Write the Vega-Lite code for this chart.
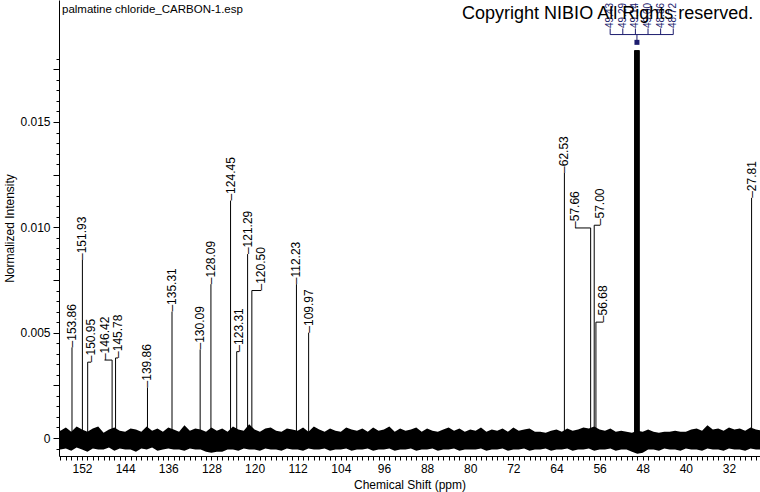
{
  "$schema": "https://vega.github.io/schema/vega-lite/v6.json",
  "width": 701,
  "height": 456,
  "autosize": {"type": "none"},
  "padding": {"left": 59, "top": 0, "right": 0, "bottom": 36},
  "background": "white",
  "config": {"view": {"stroke": null}, "font": "Liberation Sans"},
  "resolve": {"axis": {"x": "independent", "y": "independent"}},
  "datasets": {
    "peaks": [
      {"ppm": 153.86, "intensity": 0.0043, "labelPpm": 153.86},
      {"ppm": 151.93, "intensity": 0.00845, "labelPpm": 151.93},
      {"ppm": 150.95, "intensity": 0.0036, "labelPpm": 150.33},
      {"ppm": 146.42, "intensity": 0.0037, "labelPpm": 147.83},
      {"ppm": 145.78, "intensity": 0.0038, "labelPpm": 145.32},
      {"ppm": 139.86, "intensity": 0.0024, "labelPpm": 139.86},
      {"ppm": 135.31, "intensity": 0.0060, "labelPpm": 135.31},
      {"ppm": 130.09, "intensity": 0.0042, "labelPpm": 130.09},
      {"ppm": 128.09, "intensity": 0.0073, "labelPpm": 128.09},
      {"ppm": 124.45, "intensity": 0.01127, "labelPpm": 124.45},
      {"ppm": 123.31, "intensity": 0.0041, "labelPpm": 122.87},
      {"ppm": 121.29, "intensity": 0.00873, "labelPpm": 121.29},
      {"ppm": 120.50, "intensity": 0.0070, "labelPpm": 118.79},
      {"ppm": 112.23, "intensity": 0.0073, "labelPpm": 112.23},
      {"ppm": 109.97, "intensity": 0.0050, "labelPpm": 109.97},
      {"ppm": 62.53, "intensity": 0.01258, "labelPpm": 62.53},
      {"ppm": 57.66, "intensity": 0.00997, "labelPpm": 60.53},
      {"ppm": 57.00, "intensity": 0.0101, "labelPpm": 55.90},
      {"ppm": 56.68, "intensity": 0.0055, "labelPpm": 55.34},
      {"ppm": 27.81, "intensity": 0.0114, "labelPpm": 27.81}
    ],
    "solvent": [
      {"ppm": 49.43, "intensity": 0.0184, "labelPpm": 54.04},
      {"ppm": 49.29, "intensity": 0.0184, "labelPpm": 51.70},
      {"ppm": 49.14, "intensity": 0.0184, "labelPpm": 49.36},
      {"ppm": 49.00, "intensity": 0.0184, "labelPpm": 47.02},
      {"ppm": 48.86, "intensity": 0.0184, "labelPpm": 44.68},
      {"ppm": 48.72, "intensity": 0.0184, "labelPpm": 42.34}
    ],
    "noise": [
      {"ppm": 157, "hi": 0.00040, "lo": -0.00055},
      {"ppm": 156, "hi": 0.00035, "lo": -0.00055},
      {"ppm": 155, "hi": 0.00050, "lo": -0.00050},
      {"ppm": 154, "hi": 0.00030, "lo": -0.00060},
      {"ppm": 153, "hi": 0.00055, "lo": -0.00045},
      {"ppm": 152, "hi": 0.00040, "lo": -0.00055},
      {"ppm": 151, "hi": 0.00030, "lo": -0.00065},
      {"ppm": 150, "hi": 0.00045, "lo": -0.00050},
      {"ppm": 149, "hi": 0.00055, "lo": -0.00055},
      {"ppm": 148, "hi": 0.00025, "lo": -0.00055},
      {"ppm": 147, "hi": 0.00040, "lo": -0.00045},
      {"ppm": 146, "hi": 0.00050, "lo": -0.00060},
      {"ppm": 145, "hi": 0.00035, "lo": -0.00050},
      {"ppm": 144, "hi": 0.00030, "lo": -0.00055},
      {"ppm": 143, "hi": 0.00045, "lo": -0.00055},
      {"ppm": 142, "hi": 0.00040, "lo": -0.00065},
      {"ppm": 141, "hi": 0.00030, "lo": -0.00050},
      {"ppm": 140, "hi": 0.00055, "lo": -0.00055},
      {"ppm": 139, "hi": 0.00035, "lo": -0.00045},
      {"ppm": 138, "hi": 0.00045, "lo": -0.00060},
      {"ppm": 137, "hi": 0.00030, "lo": -0.00055},
      {"ppm": 136, "hi": 0.00050, "lo": -0.00050},
      {"ppm": 135, "hi": 0.00040, "lo": -0.00055},
      {"ppm": 134, "hi": 0.00030, "lo": -0.00055},
      {"ppm": 133, "hi": 0.00060, "lo": -0.00060},
      {"ppm": 132, "hi": 0.00035, "lo": -0.00050},
      {"ppm": 131, "hi": 0.00045, "lo": -0.00055},
      {"ppm": 130, "hi": 0.00040, "lo": -0.00055},
      {"ppm": 129, "hi": 0.00030, "lo": -0.00065},
      {"ppm": 128, "hi": 0.00050, "lo": -0.00070},
      {"ppm": 127, "hi": 0.00035, "lo": -0.00065},
      {"ppm": 126, "hi": 0.00045, "lo": -0.00065},
      {"ppm": 125, "hi": 0.00030, "lo": -0.00055},
      {"ppm": 124, "hi": 0.00055, "lo": -0.00055},
      {"ppm": 123, "hi": 0.00040, "lo": -0.00060},
      {"ppm": 122, "hi": 0.00035, "lo": -0.00050},
      {"ppm": 121, "hi": 0.00065, "lo": -0.00055},
      {"ppm": 120, "hi": 0.00040, "lo": -0.00055},
      {"ppm": 119, "hi": 0.00030, "lo": -0.00060},
      {"ppm": 118, "hi": 0.00045, "lo": -0.00050},
      {"ppm": 117, "hi": 0.00050, "lo": -0.00055},
      {"ppm": 116, "hi": 0.00035, "lo": -0.00055},
      {"ppm": 115, "hi": 0.00030, "lo": -0.00060},
      {"ppm": 114, "hi": 0.00045, "lo": -0.00050},
      {"ppm": 113, "hi": 0.00040, "lo": -0.00055},
      {"ppm": 112, "hi": 0.00035, "lo": -0.00055},
      {"ppm": 111, "hi": 0.00050, "lo": -0.00060},
      {"ppm": 110, "hi": 0.00030, "lo": -0.00050},
      {"ppm": 109, "hi": 0.00055, "lo": -0.00055},
      {"ppm": 108, "hi": 0.00040, "lo": -0.00055},
      {"ppm": 107, "hi": 0.00030, "lo": -0.00050},
      {"ppm": 106, "hi": 0.00045, "lo": -0.00060},
      {"ppm": 105, "hi": 0.00035, "lo": -0.00055},
      {"ppm": 104, "hi": 0.00030, "lo": -0.00055},
      {"ppm": 103, "hi": 0.00050, "lo": -0.00050},
      {"ppm": 102, "hi": 0.00040, "lo": -0.00060},
      {"ppm": 101, "hi": 0.00035, "lo": -0.00055},
      {"ppm": 100, "hi": 0.00045, "lo": -0.00055},
      {"ppm": 99, "hi": 0.00030, "lo": -0.00050},
      {"ppm": 98, "hi": 0.00050, "lo": -0.00060},
      {"ppm": 97, "hi": 0.00035, "lo": -0.00055},
      {"ppm": 96, "hi": 0.00040, "lo": -0.00055},
      {"ppm": 95, "hi": 0.00055, "lo": -0.00050},
      {"ppm": 94, "hi": 0.00030, "lo": -0.00060},
      {"ppm": 93, "hi": 0.00045, "lo": -0.00055},
      {"ppm": 92, "hi": 0.00035, "lo": -0.00055},
      {"ppm": 91, "hi": 0.00040, "lo": -0.00050},
      {"ppm": 90, "hi": 0.00050, "lo": -0.00060},
      {"ppm": 89, "hi": 0.00030, "lo": -0.00055},
      {"ppm": 88, "hi": 0.00045, "lo": -0.00055},
      {"ppm": 87, "hi": 0.00035, "lo": -0.00050},
      {"ppm": 86, "hi": 0.00030, "lo": -0.00060},
      {"ppm": 85, "hi": 0.00040, "lo": -0.00055},
      {"ppm": 84, "hi": 0.00050, "lo": -0.00055},
      {"ppm": 83, "hi": 0.00035, "lo": -0.00050},
      {"ppm": 82, "hi": 0.00045, "lo": -0.00060},
      {"ppm": 81, "hi": 0.00030, "lo": -0.00055},
      {"ppm": 80, "hi": 0.00040, "lo": -0.00055},
      {"ppm": 79, "hi": 0.00035, "lo": -0.00055},
      {"ppm": 78, "hi": 0.00050, "lo": -0.00050},
      {"ppm": 77, "hi": 0.00030, "lo": -0.00060},
      {"ppm": 76, "hi": 0.00040, "lo": -0.00055},
      {"ppm": 75, "hi": 0.00035, "lo": -0.00055},
      {"ppm": 74, "hi": 0.00045, "lo": -0.00050},
      {"ppm": 73, "hi": 0.00030, "lo": -0.00060},
      {"ppm": 72, "hi": 0.00050, "lo": -0.00055},
      {"ppm": 71, "hi": 0.00035, "lo": -0.00055},
      {"ppm": 70, "hi": 0.00040, "lo": -0.00050},
      {"ppm": 69, "hi": 0.00045, "lo": -0.00060},
      {"ppm": 68, "hi": 0.00030, "lo": -0.00055},
      {"ppm": 67, "hi": 0.00030, "lo": -0.00055},
      {"ppm": 66, "hi": 0.00025, "lo": -0.00050},
      {"ppm": 65, "hi": 0.00035, "lo": -0.00060},
      {"ppm": 64, "hi": 0.00040, "lo": -0.00055},
      {"ppm": 63, "hi": 0.00030, "lo": -0.00055},
      {"ppm": 62, "hi": 0.00045, "lo": -0.00050},
      {"ppm": 61, "hi": 0.00035, "lo": -0.00060},
      {"ppm": 60, "hi": 0.00040, "lo": -0.00055},
      {"ppm": 59, "hi": 0.00050, "lo": -0.00055},
      {"ppm": 58, "hi": 0.00045, "lo": -0.00050},
      {"ppm": 57, "hi": 0.00055, "lo": -0.00060},
      {"ppm": 56, "hi": 0.00040, "lo": -0.00055},
      {"ppm": 55, "hi": 0.00035, "lo": -0.00055},
      {"ppm": 54, "hi": 0.00045, "lo": -0.00050},
      {"ppm": 53, "hi": 0.00030, "lo": -0.00060},
      {"ppm": 52, "hi": 0.00035, "lo": -0.00055},
      {"ppm": 51, "hi": 0.00030, "lo": -0.00055},
      {"ppm": 50, "hi": 0.00025, "lo": -0.00065},
      {"ppm": 49, "hi": 0.00035, "lo": -0.00075},
      {"ppm": 48, "hi": 0.00030, "lo": -0.00070},
      {"ppm": 47, "hi": 0.00040, "lo": -0.00055},
      {"ppm": 46, "hi": 0.00030, "lo": -0.00055},
      {"ppm": 45, "hi": 0.00025, "lo": -0.00060},
      {"ppm": 44, "hi": 0.00030, "lo": -0.00050},
      {"ppm": 43, "hi": 0.00030, "lo": -0.00055},
      {"ppm": 42, "hi": 0.00035, "lo": -0.00055},
      {"ppm": 41, "hi": 0.00030, "lo": -0.00060},
      {"ppm": 40, "hi": 0.00030, "lo": -0.00050},
      {"ppm": 39, "hi": 0.00040, "lo": -0.00055},
      {"ppm": 38, "hi": 0.00045, "lo": -0.00055},
      {"ppm": 37, "hi": 0.00035, "lo": -0.00060},
      {"ppm": 36, "hi": 0.00060, "lo": -0.00050},
      {"ppm": 35, "hi": 0.00040, "lo": -0.00055},
      {"ppm": 34, "hi": 0.00045, "lo": -0.00055},
      {"ppm": 33, "hi": 0.00035, "lo": -0.00060},
      {"ppm": 32, "hi": 0.00050, "lo": -0.00050},
      {"ppm": 31, "hi": 0.00040, "lo": -0.00055},
      {"ppm": 30, "hi": 0.00045, "lo": -0.00055},
      {"ppm": 29, "hi": 0.00035, "lo": -0.00060},
      {"ppm": 28, "hi": 0.00050, "lo": -0.00050},
      {"ppm": 27, "hi": 0.00040, "lo": -0.00055},
      {"ppm": 26, "hi": 0.00035, "lo": -0.00055}
    ]
  },
  "layer": [
    {
      "data": {"name": "noise"},
      "mark": {"type": "area", "color": "black", "clip": true, "opacity": 1},
      "encoding": {
        "x": {
          "field": "ppm", "type": "quantitative",
          "scale": {"domain": [26.25, 156.27], "reverse": true, "nice": false, "zero": false},
          "axis": {
            "title": "Chemical Shift (ppm)",
            "values": [27,28,29,30,31,32,33,34,35,36,37,38,39,40,41,42,43,44,45,46,47,48,49,50,51,52,53,54,55,56,57,58,59,60,61,62,63,64,65,66,67,68,69,70,71,72,73,74,75,76,77,78,79,80,81,82,83,84,85,86,87,88,89,90,91,92,93,94,95,96,97,98,99,100,101,102,103,104,105,106,107,108,109,110,111,112,113,114,115,116,117,118,119,120,121,122,123,124,125,126,127,128,129,130,131,132,133,134,135,136,137,138,139,140,141,142,143,144,145,146,147,148,149,150,151,152,153,154,155,156],
            "labelExpr": "datum.value % 8 == 0 ? datum.label : ''",
            "tickSize": 4,
            "labelPadding": 3,
            "labelOverlap": false,
            "labelFlush": false,
            "labelBound": false,
            "grid": false,
            "domainColor": "black",
            "tickColor": "black",
            "labelColor": "black",
            "labelFontSize": 12,
            "labelFont": "Liberation Sans",
            "titleFont": "Liberation Sans",
            "titleFontSize": 12,
            "titleFontWeight": "normal",
            "titleColor": "black",
            "titleBaseline": "alphabetic",
            "titleY": 32
          }
        },
        "y": {
          "field": "hi", "type": "quantitative",
          "scale": {"domain": [-0.000854, 0.02079], "nice": false, "zero": false},
          "axis": {
            "title": "Normalized Intensity",
            "values": [-0.0005,0,0.0005,0.001,0.0015,0.002,0.0025,0.003,0.0035,0.004,0.0045,0.005,0.0055,0.006,0.0065,0.007,0.0075,0.008,0.0085,0.009,0.0095,0.01,0.0105,0.011,0.0115,0.012,0.0125,0.013,0.0135,0.014,0.0145,0.015,0.0155,0.016,0.0165,0.017,0.0175,0.018],
            "labelExpr": "abs(round(datum.value*10000)) % 50 == 0 ? (datum.value == 0 ? '0' : format(datum.value, '.3f')) : ''",
            "tickSize": {"condition": {"test": "abs(round(datum.value*10000)) % 25 == 0", "value": 6}, "value": 3},
            "labelPadding": 3,
            "labelOverlap": false,
            "labelFlush": false,
            "labelBound": false,
            "grid": false,
            "domainColor": "black",
            "tickColor": "black",
            "labelColor": "black",
            "labelFontSize": 12,
            "labelFont": "Liberation Sans",
            "titleFont": "Liberation Sans",
            "titleFontSize": 12,
            "titleFontWeight": "normal",
            "titleColor": "black",
            "titlePadding": 3
          }
        },
        "y2": {"field": "lo"}
      }
    },
    {
      "data": {"name": "peaks"},
      "mark": {"type": "rule", "color": "black", "strokeWidth": 1},
      "encoding": {
        "x": {"field": "ppm", "type": "quantitative", "axis": null},
        "y": {"field": "intensity", "type": "quantitative", "axis": null},
        "y2": {"datum": 0}
      }
    },
    {
      "data": {"name": "peaks"},
      "mark": {"type": "rule", "color": "black", "strokeWidth": 1},
      "encoding": {
        "x": {"field": "ppm", "type": "quantitative", "axis": null},
        "x2": {"field": "labelPpm"},
        "y": {"field": "intensity", "type": "quantitative", "axis": null}
      }
    },
    {
      "data": {"name": "solvent"},
      "mark": {"type": "rule", "color": "black", "strokeWidth": 2},
      "encoding": {
        "x": {"field": "ppm", "type": "quantitative", "axis": null},
        "y": {"field": "intensity", "type": "quantitative", "axis": null},
        "y2": {"datum": 0}
      }
    },
    {
      "data": {"name": "peaks"},
      "transform": [{"calculate": "'–' + format(datum.ppm, '.2f')", "as": "txt"}],
      "mark": {"type": "text", "angle": 270, "align": "left", "baseline": "middle", "fontSize": 12, "font": "Liberation Sans", "color": "black"},
      "encoding": {
        "x": {"field": "labelPpm", "type": "quantitative", "axis": null},
        "y": {"field": "intensity", "type": "quantitative", "axis": null},
        "text": {"field": "txt"}
      }
    },
    {
      "data": {"name": "solvent"},
      "transform": [{"calculate": "format(datum.ppm, '.2f')", "as": "txt"}],
      "mark": {"type": "text", "angle": 270, "align": "left", "baseline": "middle", "fontSize": 10, "font": "Liberation Sans", "color": "#1c1c6e"},
      "encoding": {
        "x": {"field": "labelPpm", "type": "quantitative", "axis": null},
        "y": {"datum": 0.01946, "axis": null},
        "text": {"field": "txt"}
      }
    },
    {
      "data": {"name": "solvent"},
      "mark": {"type": "rule", "color": "#1c1c6e", "strokeWidth": 1},
      "encoding": {
        "x": {"field": "labelPpm", "type": "quantitative", "axis": null},
        "y": {"datum": 0.01944, "axis": null},
        "y2": {"datum": 0.01915}
      }
    },
    {
      "data": {"name": "solvent"},
      "mark": {"type": "rule", "color": "#1c1c6e", "strokeWidth": 1},
      "encoding": {
        "x": {"aggregate": "min", "field": "labelPpm", "type": "quantitative", "axis": null},
        "x2": {"aggregate": "max", "field": "labelPpm"},
        "y": {"datum": 0.01915, "axis": null}
      }
    },
    {
      "data": {"name": "solvent"},
      "mark": {"type": "rule", "color": "#1c1c6e", "strokeWidth": 1},
      "encoding": {
        "x": {"aggregate": "mean", "field": "ppm", "type": "quantitative", "axis": null},
        "y": {"datum": 0.01915, "axis": null},
        "y2": {"datum": 0.0188}
      }
    },
    {
      "data": {"name": "solvent"},
      "mark": {"type": "square", "color": "#1c1c6e", "filled": true, "size": 25, "opacity": 1},
      "encoding": {
        "x": {"aggregate": "mean", "field": "ppm", "type": "quantitative", "axis": null},
        "y": {"datum": 0.01878, "axis": null}
      }
    },
    {
      "data": {"values": [{"t": "palmatine chloride_CARBON-1.esp"}]},
      "mark": {"type": "text", "align": "left", "baseline": "middle", "fontSize": 11.5, "font": "Liberation Sans", "color": "black"},
      "encoding": {
        "x": {"datum": 155.71, "axis": null},
        "y": {"datum": 0.02032, "axis": null},
        "text": {"field": "t"}
      }
    },
    {
      "data": {"values": [{"t": "Copyright NIBIO All Rights reserved."}]},
      "mark": {"type": "text", "align": "right", "baseline": "middle", "fontSize": 18, "font": "Liberation Sans", "color": "black"},
      "encoding": {
        "x": {"datum": 27.51, "axis": null},
        "y": {"datum": 0.02013, "axis": null},
        "text": {"field": "t"}
      }
    }
  ]
}
